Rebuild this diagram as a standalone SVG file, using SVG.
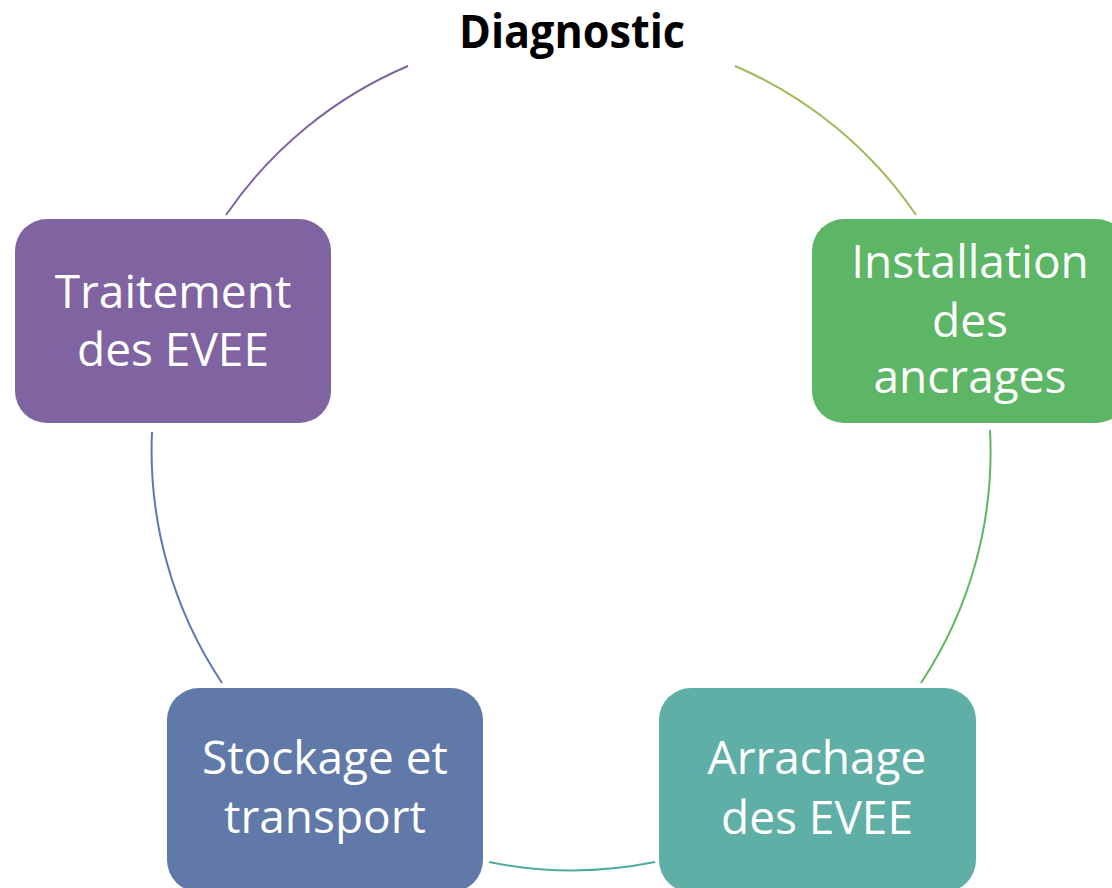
<svg xmlns="http://www.w3.org/2000/svg" width="1112" height="888" viewBox="0 0 1112 888">
<style>
.lbl{font-family:"Open Sans","Noto Sans","Liberation Sans",sans-serif;font-size:46px;fill:#ffffff;text-anchor:middle}
.title{font-family:"Open Sans","Noto Sans","Liberation Sans",sans-serif;font-size:46px;font-weight:bold;fill:#000000;text-anchor:middle}
.arc{fill:none;stroke-width:2}
</style>
<rect width="1112" height="888" fill="#ffffff"/>
<g id="connectors">
<path class="arc" stroke="#8064A2" d="M226,215 A418.5,418.5 0 0 1 408,66"/>
<path class="arc" stroke="#9BBB59" d="M735,66 A418.5,418.5 0 0 1 916,215"/>
<path class="arc" stroke="#5CB85F" d="M990,430 A418.5,418.5 0 0 1 921,683"/>
<path class="arc" stroke="#4DAC9E" d="M655,862 A418.5,418.5 0 0 1 489,862"/>
<path class="arc" stroke="#5A78B4" d="M222,683 A418.5,418.5 0 0 1 152,432"/>
</g>
<g id="diagnostic">
<text class="title" x="572" y="48" textLength="226" lengthAdjust="spacingAndGlyphs">Diagnostic</text>
</g>
<g id="traitement">
<rect x="15" y="219" width="316" height="204" rx="32" fill="#8064A2"/>
<text class="lbl" x="173" y="308">Traitement</text>
<text class="lbl" x="173" y="366">des EVEE</text>
</g>
<g id="installation">
<rect x="812" y="219" width="316" height="204" rx="32" fill="#5DB566"/>
<text class="lbl" x="970" y="278">Installation</text>
<text class="lbl" x="970" y="337">des</text>
<text class="lbl" x="970" y="393">ancrages</text>
</g>
<g id="stockage">
<rect x="167" y="688" width="316" height="204" rx="32" fill="#6079A8"/>
<text class="lbl" x="325" y="774">Stockage et</text>
<text class="lbl" x="325" y="833">transport</text>
</g>
<g id="arrachage">
<rect x="659" y="688" width="317" height="204" rx="32" fill="#5FAFA6"/>
<text class="lbl" x="817" y="774">Arrachage</text>
<text class="lbl" x="817" y="834">des EVEE</text>
</g>
</svg>
